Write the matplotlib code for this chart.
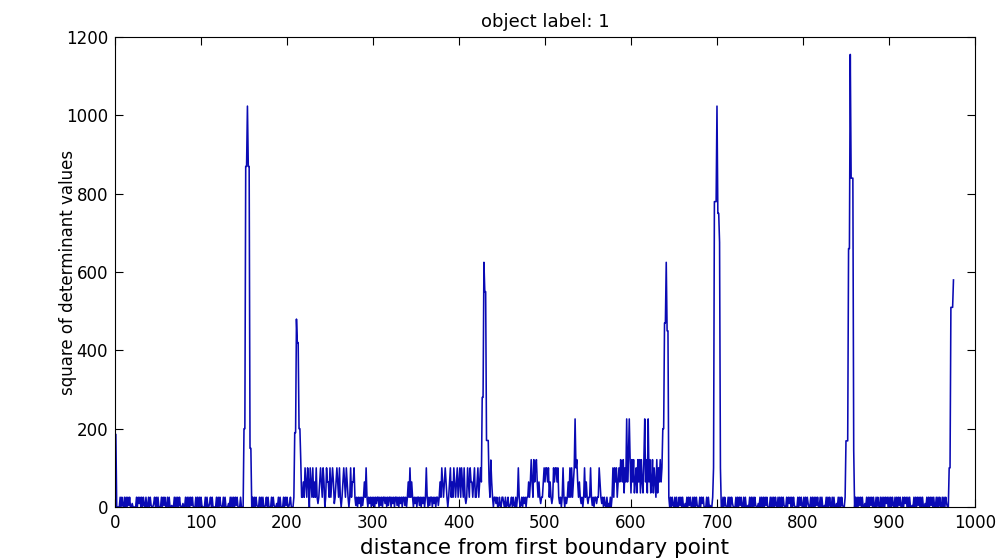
import numpy as np
import matplotlib
matplotlib.use("Agg")
import matplotlib.pyplot as plt

plt.rcParams['font.family'] = ['DejaVu Sans']

N_POINTS = 975
title_text = "object label: 1"
x_label = "distance from first boundary point"
y_label = "square of determinant values"
x_ticks = [0, 100, 200, 300, 400, 500, 600, 700, 800, 900, 1000]
y_ticks = [0, 200, 400, 600, 800, 1000, 1200]

# baseline segments (start index, values)
seg1_start = 1
seg1 = [185, 0, 0, 0, 0, 25, 0, 25, 4, 0, 25, 0, 25, 0, 25, 4, 25, 0, 0, 9, 0, 0, 0, 0, 25,
        0, 25, 9, 25, 0, 25, 0, 25, 4, 0, 25, 0, 0, 25, 0, 25, 4, 0, 0, 9, 25, 0, 25, 0, 25,
        0, 0, 0, 25, 0, 25, 4, 25, 0, 0, 25, 0, 25, 0, 0, 4, 0, 0, 25, 0, 25, 0, 25, 0, 25,
        4, 0, 0, 9, 0, 0, 25, 0, 25, 0, 25, 0, 25, 4, 25, 0, 0, 0, 25, 0, 25, 0, 25, 0, 25,
        4, 0, 0, 0, 25, 0, 25, 0, 0, 9, 25, 0, 25, 0, 0, 0, 0, 25, 0, 25, 0, 25, 4, 0, 0,
        25, 0, 25, 0, 0, 0, 9, 0, 25, 0, 25, 0, 25, 0, 25, 4, 25, 0, 0, 0, 25, 0, 0]
seg2_start = 160
seg2 = [25, 0, 25, 0, 25, 4, 0, 0, 25, 0, 25, 0, 25, 0, 0, 4, 25, 0, 25, 0, 0, 0, 25, 0,
        25, 4, 0, 0, 9, 0, 25, 0, 25, 0, 0, 0, 25, 0, 25, 4, 25, 0, 0, 9, 25, 0, 0]
seg3_start = 218
seg3 = [25, 64, 25, 100, 64, 25, 100, 64, 0, 100, 64, 25, 100, 25, 64, 25, 100, 25, 9, 25,
        64, 100, 64, 25, 100, 64, 0, 25, 100, 64, 64, 25, 100, 25, 64, 100, 64, 9, 25, 64,
        100, 64, 25, 100, 25, 0, 25, 64, 100, 64, 25, 100, 64, 25, 0, 25, 100, 25, 64, 64,
        100, 25, 4, 25, 0, 25, 9, 25, 0, 25, 4, 25, 64, 25, 100, 25, 0, 25, 9, 25,
        0, 25, 4,
        25, 0, 25, 9, 25, 25, 0, 25, 4, 25, 0, 25, 25, 9, 25, 0, 25, 4, 25, 25,
        0, 25, 9, 25, 0, 25, 25, 4, 25, 0, 25, 9, 25, 0, 25, 25, 4, 25, 0, 25,
        64, 25, 100, 25, 64, 25, 0, 25, 9, 25, 0, 25, 25, 4, 25, 0, 25, 9, 25, 0,
        25, 100, 25, 0, 25, 4, 25, 25, 0, 25, 9, 25, 0, 25, 25, 4, 25, 64,
        25, 100, 64, 25, 64, 100, 64, 25, 0, 25, 64, 100, 25, 64, 25, 100, 64, 25, 64, 100,
        25, 64, 100, 25, 100, 64, 25, 100, 25, 9, 25, 100, 64, 25, 100, 64, 64, 25, 64, 100,
        25, 25, 64, 100, 25, 64, 100]
seg4_start = 440
seg4 = [0, 25, 25, 9, 25, 0, 0, 25, 4, 0, 25, 25, 9, 0, 25, 0, 4, 25, 0, 0,
        9, 25, 0, 25, 4, 0, 25, 0, 25, 100, 25, 0, 4, 25, 0, 25, 9, 25, 0, 25,
        25, 64, 25, 64, 121, 64, 25, 121, 64, 100, 121, 64, 25, 64, 25, 9, 25, 25, 64, 100,
        64, 100, 100, 64, 100, 25, 64, 25, 9, 25, 100, 64, 100, 100, 64, 100, 25, 9, 25, 0,
        25, 100, 25, 0, 25, 9, 25, 64, 25, 100, 25, 100, 25, 64, 100, 225, 100, 121, 64, 25,
        64, 25, 9, 25, 0, 25, 100, 25, 64, 25, 9, 25, 25, 100, 25, 4, 25, 0, 25, 25,
        9, 25, 25, 100, 64, 25, 9, 25, 0, 25, 4, 0, 25, 0, 9, 0, 25, 0, 25, 100,
        25, 100, 64, 100, 25, 64, 100, 64, 121, 100, 64, 121, 36, 100, 64, 225, 64, 121, 225, 121,
        36, 121, 64, 121, 36, 64, 100, 36, 121, 64, 121, 36, 121, 64, 36, 121, 225, 64, 121, 36,
        225, 64, 121, 36, 64, 121, 36, 100, 64, 25, 121, 36, 100, 64, 121]
seg5_start = 646
seg5 = [25, 0, 25, 4, 0, 25, 0, 25, 0, 0, 25, 4, 25, 0, 25, 0, 0, 9, 0, 25, 0, 25, 4, 25,
        0, 0, 25, 0, 25, 0, 25, 4, 0, 0, 25, 0, 25, 9, 25, 0, 0, 0, 25, 0, 25, 0, 4, 0, 0]
seg6_start = 706
seg6 = [0, 25, 0, 25, 4, 0, 0, 25, 0, 25, 0, 25, 9, 0, 0, 0, 25, 0, 25, 0, 25, 4, 25, 0,
        0, 25, 0, 25, 0, 0, 4, 0, 25, 0, 25, 0, 25, 0, 25, 4, 0, 0, 9, 0, 25, 0, 25, 0,
        25, 0, 25, 4, 25, 0, 0, 0, 25, 0, 25, 0, 25, 0, 25, 4, 0, 25, 0, 25, 0, 25, 0, 25,
        4, 0, 0, 25, 0, 25, 9, 25, 0, 25, 0, 25, 4, 0, 0, 0, 25, 0, 25, 4, 25, 0, 0, 25,
        0, 25, 0, 25, 9, 0, 0, 25, 0, 25, 0, 25, 0, 25, 4, 25, 0, 0, 25, 0, 25, 0, 0, 4,
        0, 25, 0, 25, 0, 25, 4, 0, 25, 0, 25, 0, 0, 9, 0, 25, 0, 25, 0, 25, 4, 0, 0]
seg7_start = 861
seg7 = [25, 0, 25, 0, 25, 4, 25, 0, 25, 0, 0, 9, 0, 25, 0, 25, 0, 25, 4, 25, 0, 25, 0, 0,
        25, 0, 25, 4, 0, 25, 0, 25, 0, 25, 0, 25, 9, 25, 0, 25, 0, 25, 0, 25, 4, 0, 25, 0,
        25, 0, 25, 4, 25, 0, 0, 25, 0, 25, 9, 25, 0, 25, 0, 25, 0, 0, 4, 0, 25, 0, 25, 0,
        25, 4, 25, 0, 25, 0, 25, 0, 0, 9, 0, 25, 0, 25, 0, 25, 4, 25, 0, 25, 0, 0, 25, 0,
        25, 0, 25, 4, 0, 25, 0, 25, 0, 25, 9, 0]

# peaks (start index, values)
peak1_start = 150
peak1 = [200, 200, 870, 870, 1024, 870, 870, 150, 150, 0]
peak2_start = 208
peak2 = [25, 190, 190, 480, 420, 420, 200, 200, 120, 25]
peak3_start = 425
peak3 = [100, 64, 280, 280, 625, 550, 550, 170, 170, 170, 64, 25, 120, 64, 25]
peak4_start = 635
peak4 = [64, 100, 200, 200, 470, 470, 625, 450, 450, 25, 0]
peak5_start = 695
peak5 = [25, 100, 780, 780, 780, 1024, 750, 750, 676, 100, 0]
peak6_start = 849
peak6 = [25, 169, 169, 169, 660, 660, 1156, 840, 840, 840, 144, 0]
tail_start = 969
tail = [0, 100, 100, 510, 510, 510, 580]

x = np.arange(1, N_POINTS + 1)
y = np.zeros(N_POINTS)
for start, vals in [(seg1_start, seg1), (seg2_start, seg2), (seg3_start, seg3),
                    (seg4_start, seg4), (seg5_start, seg5), (seg6_start, seg6),
                    (seg7_start, seg7), (peak1_start, peak1), (peak2_start, peak2),
                    (peak3_start, peak3), (peak4_start, peak4), (peak5_start, peak5),
                    (peak6_start, peak6), (tail_start, tail)]:
    vals = np.asarray(vals, dtype=float)
    end = min(start - 1 + len(vals), N_POINTS)
    y[start - 1:end] = vals[:end - (start - 1)]

fig = plt.figure(figsize=(10.07, 5.6), dpi=100)
ax = fig.add_axes([0.1142, 0.0946, 0.854, 0.839])
ax.plot(x, y, color='#0a0ab4', linewidth=1.15)
ax.set_xlim(0, 1000)
ax.set_ylim(0, 1200)
ax.set_xticks(x_ticks)
ax.set_yticks(y_ticks)
ax.tick_params(direction='in', top=True, right=True, length=6, width=0.8,
               labelsize=12, pad=5)
for s in ax.spines.values():
    s.set_linewidth(0.8)
ax.set_title(title_text, fontsize=13, pad=7)
ax.set_xlabel(x_label, fontsize=15.5)
ax.xaxis.set_label_coords(0.5, -0.066)
ax.set_ylabel(y_label, fontsize=12)
ax.yaxis.set_label_coords(-0.044, 0.5)
fig.savefig("out.png", dpi=100)
